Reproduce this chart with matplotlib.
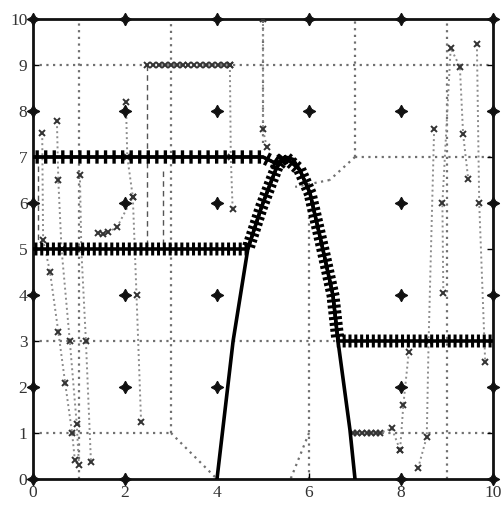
import matplotlib
matplotlib.use('Agg')
import matplotlib.pyplot as plt
import matplotlib.patheffects as pe

# ---------------- data ----------------
# obstacle boundary (thick parabola-like curve)
curve_x = [4.0, 4.35, 4.67, 4.97, 5.15, 5.3, 5.48, 5.65, 5.8, 6.02, 6.3, 6.52, 6.63, 6.89, 7.0]
curve_y = [0.0, 3.0, 5.0, 5.92, 6.4, 6.78, 7.0, 6.95, 6.72, 6.22, 5.0, 4.0, 3.0, 1.07, 0.0]

# upper marked path (y = 7)
upper_x = [0.0, 5.0, 5.3, 5.48]
upper_y = [7.0, 7.0, 6.85, 7.0]

# lower marked path (y = 5 -> over the peak -> y = 3)
lower_x = [0.0, 4.67, 4.97, 5.3, 5.48, 5.8, 6.02, 6.3, 6.52, 6.63, 10.0]
lower_y = [5.0, 5.0, 5.92, 6.78, 7.0, 6.72, 6.22, 5.0, 4.0, 3.0, 3.0]

# star nodes (grid points, those inside the obstacle removed)
star_x = [0, 0, 0, 0, 0, 0, 2, 2, 2, 2, 2, 2, 4, 4, 4, 4, 4, 6, 6,
          8, 8, 8, 8, 8, 8, 10, 10, 10, 10, 10, 10]
star_y = [0, 2, 4, 6, 8, 10, 0, 2, 4, 6, 8, 10, 2, 4, 6, 8, 10, 8, 10,
          0, 2, 4, 6, 8, 10, 0, 2, 4, 6, 8, 10]

# dotted cell boundaries: (x0, y0, x1, y1)
cell_lines = [
    (0, 9, 10, 9), (7, 7, 10, 7), (0, 3, 6.6, 3), (0, 1, 3, 1), (7, 1, 10, 1),
    (1, 0, 1, 10), (3, 1, 3, 10), (5, 7.3, 5, 10), (7, 7, 7, 10), (9, 0, 9, 10),
    (6, 0, 6, 6), (3, 1, 4, 0), (6, 1, 5.6, 0), (7, 7, 6.45, 6.5), (6.45, 6.5, 5.7, 6.35),
]

# trajectories (dotted with x markers)
traj = [
    ([0.20, 0.22, 0.37, 0.55, 0.70, 0.85, 0.91], [7.52, 5.20, 4.50, 3.20, 2.08, 1.00, 0.41]),
    ([0.52, 0.55, 0.62, 0.80, 0.95, 1.00], [7.78, 6.50, 5.00, 3.00, 1.20, 0.30]),
    ([1.02, 1.05, 1.15, 1.26], [6.60, 5.00, 3.00, 0.37]),
    ([2.02, 2.05, 2.17, 2.25, 2.35], [8.20, 7.00, 6.13, 4.00, 1.24]),
    ([1.41, 1.52, 1.63, 1.83, 2.17], [5.35, 5.33, 5.36, 5.48, 6.13]),
    ([2.47, 2.60, 2.73, 2.86, 2.99, 3.12, 3.25, 3.38, 3.51, 3.64, 3.77, 3.90, 4.03, 4.16, 4.28],
     [9.0] * 15),
    ([4.28, 4.30, 4.34], [9.00, 7.00, 5.86]),
    ([5.00, 5.00, 5.08], [10.0, 7.60, 7.22]),
    ([6.95, 7.05, 7.15, 7.25, 7.35, 7.45, 7.55, 7.80, 7.98], [1.0, 1.0, 1.0, 1.0, 1.0, 1.0, 1.0, 1.1, 0.63]),
    ([8.17, 8.05, 7.98], [2.77, 1.60, 0.63]),
    ([8.37, 8.56, 8.60, 8.72], [0.23, 0.92, 3.00, 7.60]),
    ([8.92, 8.90, 9.08, 9.28, 9.35, 9.46], [4.04, 6.00, 9.37, 8.96, 7.50, 6.53]),
    ([9.65, 9.70, 9.83], [9.45, 6.00, 2.55]),
]
# dashed vertical strokes
dash_lines = [(2.47, 9.0, 2.47, 5.0), (2.83, 6.7, 2.83, 5.0), (0.1, 6.8, 0.1, 5.2)]

x_ticks = [0, 2, 4, 6, 8, 10]
y_ticks = [0, 1, 2, 3, 4, 5, 6, 7, 8, 9, 10]

# ---------------- figure ----------------
fig = plt.figure(figsize=(5.01, 5.08), dpi=100)
ax = fig.add_axes([33 / 501, 1 - 479 / 508, 460 / 501, 460 / 508])
ax.set_xlim(0, 10)
ax.set_ylim(0, 10)

for (x0, y0, x1, y1) in cell_lines:
    ax.plot([x0, x1], [y0, y1], linestyle=(0, (1, 2)), color='#707070', lw=1.6, zorder=1)

for (x0, y0, x1, y1) in dash_lines:
    ax.plot([x0, x1], [y0, y1], linestyle=(0, (4, 3)), color='#555555', lw=1.0, zorder=1)

for tx, ty in traj:
    ax.plot(tx, ty, linestyle=(0, (1, 1.6)), color='#8c8c8c', lw=1.4, zorder=2)
    ax.plot(tx, ty, linestyle='none', marker='x', color='#333333', ms=5, mew=1.4, zorder=3)

ax.plot(star_x, star_y, linestyle='none', marker=(4, 1, 0), color='#111111', ms=9,
        mew=0.8, zorder=4, clip_on=False)

ax.plot(curve_x, curve_y, color='black', lw=2.6, zorder=5, solid_joinstyle='round')

ticks_up = [pe.withTickedStroke(spacing=6, angle=90, length=0.6),
            pe.withTickedStroke(spacing=6, angle=-90, length=0.6)]
ticks_lo = [pe.withTickedStroke(spacing=4.2, angle=90, length=0.85),
            pe.withTickedStroke(spacing=4.2, angle=-90, length=0.85)]
ax.plot(upper_x, upper_y, color='black', lw=2.4, zorder=6, path_effects=ticks_up)
ax.plot(upper_x, upper_y, linestyle='none', color='black', zorder=6)
ax.plot(lower_x, lower_y, color='black', lw=2.2, zorder=6, path_effects=ticks_lo)

for s in ax.spines.values():
    s.set_linewidth(2)
    s.set_color('#111111')

ax.set_xticks(x_ticks)
ax.set_yticks(y_ticks)
ax.tick_params(direction='in', length=4, width=1, top=True, right=True,
               labelsize=12.5, labelcolor='#333333', pad=4)
for lab in ax.get_xticklabels() + ax.get_yticklabels():
    lab.set_family('Liberation Serif')

fig.savefig('out.png', dpi=100)
